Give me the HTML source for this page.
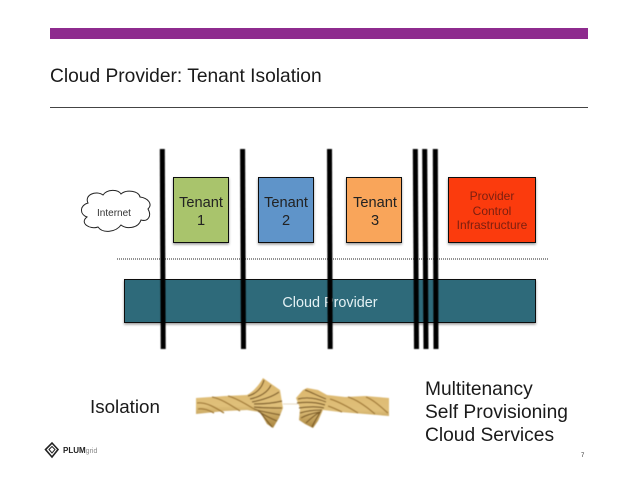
<!DOCTYPE html>
<html>
<head>
<meta charset="utf-8">
<style>
html,body{margin:0;padding:0;background:#fff}
svg{display:block}
text{font-family:"Liberation Sans",sans-serif}
</style>
</head>
<body>
<svg width="638" height="493" viewBox="0 0 638 493" xmlns="http://www.w3.org/2000/svg">
<defs>
<filter id="s" x="-10%" y="-10%" width="120%" height="120%"><feDropShadow dx="0" dy="1.500" stdDeviation="1.200" flood-color="#000" flood-opacity="0.4"/></filter>
<filter id="b" x="-5%" y="-5%" width="110%" height="110%"><feGaussianBlur stdDeviation="0.5"/></filter>
<filter id="b2" x="-5%" y="-5%" width="110%" height="110%"><feGaussianBlur stdDeviation="0.45"/></filter>
<linearGradient id="r" x1="0" y1="0" x2="0" y2="1"><stop offset="0" stop-color="#dcb76e"/><stop offset="0.55" stop-color="#e0c07a"/><stop offset="1" stop-color="#a8843f"/></linearGradient>
</defs>
<rect x="50" y="28" width="538" height="11" fill="#8e2b8e"/>
<text x="50" y="82" font-size="19.2" fill="#1a1a1a">Cloud Provider: Tenant Isolation</text>
<rect x="50" y="107" width="538" height="1" fill="#444"/>

<!-- cloud -->
<path d="M88 203 C84 195 96 190 103 195 C107 189 118 189 121 194 C127 189 139 191 140 197 C148 198 153 204 148 209 C152 216 148 222 141 220 C138 229 126 229 121 225 C116 232 103 234 98 227 C90 230 79 223 87 217 C79 214 80 205 88 203 Z" fill="#fff" stroke="#222" stroke-width="1"/>
<text x="114" y="216" font-size="10" fill="#333" text-anchor="middle">Internet</text>

<rect x="173.5" y="177.5" width="55" height="65" fill="#a9c46c" stroke="#111" stroke-width="1" filter="url(#s)"/>
<text font-size="14.6" fill="#222" text-anchor="middle"><tspan x="201" y="207">Tenant</tspan><tspan x="201" y="225">1</tspan></text>
<rect x="258.500" y="177.5" width="55" height="65" fill="#5f94c9" stroke="#111" stroke-width="1" filter="url(#s)"/>
<text font-size="14.6" fill="#222" text-anchor="middle"><tspan x="286" y="207">Tenant</tspan><tspan x="286" y="225">2</tspan></text>
<rect x="346.500" y="177.5" width="55" height="65" fill="#f9a55a" stroke="#111" stroke-width="1" filter="url(#s)"/>
<text font-size="14.6" fill="#222" text-anchor="middle"><tspan x="375" y="207">Tenant</tspan><tspan x="375" y="225">3</tspan></text>
<rect x="448.500" y="177.5" width="87" height="65" fill="#fb3a0e" stroke="#111" stroke-width="1" filter="url(#s)"/>
<text font-size="12" fill="#7a1f10" text-anchor="middle"><tspan x="492" y="200">Provider</tspan><tspan x="492" y="215">Control</tspan><tspan x="492" y="229">Infrastructure</tspan></text>

<line x1="117" y1="259" x2="548" y2="259" stroke="#222" stroke-width="1" stroke-dasharray="1 1"/>

<rect x="124.500" y="279.5" width="411" height="43" fill="#2d6a7a" stroke="#111" stroke-width="1" filter="url(#s)"/>
<text x="330" y="307" font-size="14.4" fill="#e4f1f4" text-anchor="middle">Cloud Provider</text>

<g stroke="#000" stroke-width="5" filter="url(#b)">
<line x1="162.300" y1="149" x2="163.200" y2="349"/>
<line x1="242.600" y1="149" x2="243.500" y2="349"/>
<line x1="329.500" y1="149" x2="330.200" y2="349"/>
<line x1="415.300" y1="149" x2="416.500" y2="349"/>
<line x1="424.700" y1="149" x2="426" y2="349"/>
<line x1="435.300" y1="149" x2="436" y2="349"/>
</g>

<text x="90" y="413" font-size="18.8" fill="#1a1a1a">Isolation</text>
<text font-size="19.2" fill="#1a1a1a"><tspan x="425" y="395">Multitenancy</tspan><tspan x="425" y="418">Self Provisioning</tspan><tspan x="425" y="441">Cloud Services</tspan></text>

<!-- rope -->
<g filter="url(#b2)">
<path d="M196 398 L225 396 L247 395 C254 391 259 385 263 378 L270 383 L280 390 L283 408 L279 418 L273 428 L267 424 L260 412 L247 410 L225 411 L196 414 Z" fill="url(#r)"/>
<g fill="none" stroke="#a37c38" stroke-width="1.300">
<path d="M197 403 C207 402 216 408 224 413"/>
<path d="M212 397 C222 399 232 406 240 411"/>
<path d="M228 396 C236 398 246 404 254 409"/>
<path d="M198 409 C205 408 210 411 214 413"/>
</g>
<g fill="none" stroke="#7d5c26" stroke-width="1.200">
<path d="M248 396 C256 394 262 388 264 380"/>
<path d="M250 399 C260 397 268 392 271 385"/>
<path d="M252 402 C262 400 272 397 279 392"/>
<path d="M254 404 C264 404 274 403 282 401"/>
<path d="M254 407 C264 408 274 408 282 408"/>
<path d="M254 409 C262 412 272 413 280 415"/>
<path d="M258 411 C264 415 272 419 277 421"/>
<path d="M260 412 C264 417 268 422 272 427"/>
</g>
<path d="M296 398 L303 390 L307 388 L318 390 L327 395 L345 397 L365 396 L389 398 L389 416 L365 414 L340 412 L323 410 L318 421 L313 428 L305 424 L299 420 L300 408 Z" fill="url(#r)"/>
<g fill="none" stroke="#7d5c26" stroke-width="1.200">
<path d="M298 399 C306 397 316 398 326 402"/>
<path d="M305 390 C311 392 318 396 326 399"/>
<path d="M297 403 C306 402 316 402 325 405"/>
<path d="M299 408 C306 407 316 406 324 408"/>
<path d="M300 413 C306 411 314 410 322 410"/>
<path d="M301 418 C306 415 314 413 320 412"/>
<path d="M306 423 C310 419 315 415 320 412"/>
<path d="M312 427 C314 422 318 416 321 411"/>
</g>
<g fill="none" stroke="#a37c38" stroke-width="1.300">
<path d="M330 399 C340 402 350 408 358 413"/>
<path d="M348 397 C358 400 368 408 375 414"/>
<path d="M366 397 C374 400 382 408 388 413"/>
<path d="M328 406 C334 408 338 410 342 412"/>
</g>
<line x1="283" y1="404" x2="298" y2="404" stroke="#d8c59a" stroke-width="0.600"/>
</g>

<!-- logo -->
<path d="M52 443 L58 449.500 L52 457 L45.500 449.500 Z" fill="none" stroke="#222" stroke-width="1.600"/>
<path d="M49 449.500 L52 446.500 L55 449.500 L52 453 Z" fill="none" stroke="#222" stroke-width="1"/>
<text x="63" y="453" font-size="8" font-weight="bold" fill="#222">PLUM<tspan font-weight="normal" fill="#888" font-size="7">grid</tspan></text>

<text x="581" y="457" font-size="6" fill="#333">7</text>
</svg>
</body>
</html>
